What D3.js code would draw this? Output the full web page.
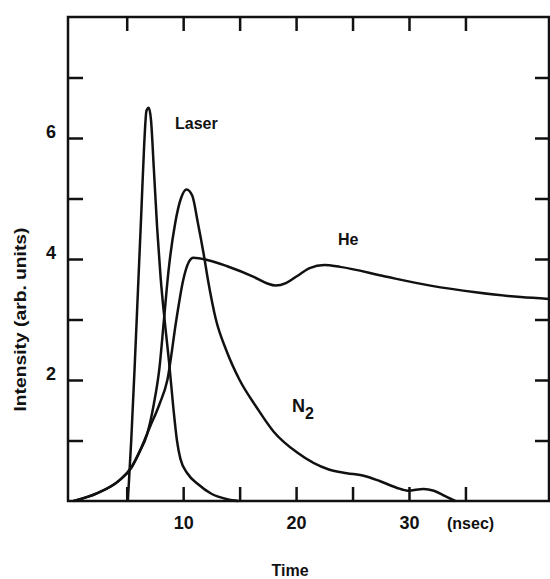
<!DOCTYPE html>
<html>
<head>
<meta charset="utf-8">
<script src="https://cdn.jsdelivr.net/npm/d3@7"></script>
<style>
  body { margin: 0; background: #fff; }
  text { font-family: "Liberation Sans", Arial, sans-serif; fill: #111; }
</style>
</head>
<body>
<div id="chart"></div>
<script>
var svgWidth = 550;
var svgHeight = 579;

// data (time in nsec, intensity in arb. units)
var laserT = [5.1, 5.4, 5.7, 6.0, 6.3, 6.55, 6.75, 6.95, 7.15, 7.4, 7.7, 8.0, 8.35, 8.75, 9.15, 9.45, 9.75, 10.4, 11.3, 12.5, 13.9, 14.9];
var laserV = [0, 1.0, 2.2, 3.5, 4.8, 5.9, 6.45, 6.5, 6.3, 5.5, 4.5, 3.7, 3.0, 2.3, 1.5, 1.0, 0.7, 0.45, 0.28, 0.12, 0.03, 0];

var n2T = [0.3, 2.4, 4.4, 5.4, 6.1, 6.8, 7.4, 7.9, 8.3, 8.7, 9.3, 9.8, 10.3, 10.8, 11.3, 11.8, 12.2, 12.9, 13.8, 15.0, 16.5, 18.0, 20.1, 22.9, 24.5, 25.9, 27.4, 28.9, 29.9, 31.3, 32.2, 33.2, 34.1];
var n2V = [0, 0.13, 0.35, 0.55, 0.8, 1.1, 1.6, 2.2, 3.0, 3.8, 4.6, 5.0, 5.15, 5.05, 4.6, 4.1, 3.65, 3.0, 2.5, 2.0, 1.55, 1.15, 0.8, 0.52, 0.46, 0.42, 0.33, 0.22, 0.17, 0.2, 0.17, 0.08, 0];

var heT = [0.3, 2.4, 4.4, 5.4, 6.1, 7.0, 7.9, 8.6, 9.4, 10.0, 10.5, 10.9, 12.2, 13.9, 16.3, 17.4, 18.2, 19.1, 20.1, 21.2, 22.5, 23.9, 27.9, 31.9, 35.9, 39.9, 42.4];
var heV = [0, 0.13, 0.35, 0.55, 0.8, 1.2, 1.6, 2.0, 3.0, 3.65, 3.95, 4.02, 3.98, 3.88, 3.7, 3.6, 3.56, 3.6, 3.72, 3.85, 3.9, 3.87, 3.71, 3.56, 3.45, 3.37, 3.34];

var xTicks = [5, 10, 15, 20, 25, 30, 35];
var xLabels = [10, 20, 30];
var yTicks = [1, 2, 3, 4, 5, 6, 7];
var yLabels = [2, 4, 6];

var svg = d3.select("#chart")
  .append("svg")
  .attr("width", svgWidth)
  .attr("height", svgHeight);

var xScale = d3.scaleLinear()
  .domain([-0.2, 42.4])
  .range([68, 549]);

var yScale = d3.scaleLinear()
  .domain([0, 8])
  .range([501, 17]);

var x0 = xScale.range()[0], x1 = xScale.range()[1];
var yTop = yScale(8), yBot = yScale(0);

// axes with inward ticks
var bottomAxis = d3.axisBottom(xScale)
  .tickValues(xTicks)
  .tickSizeInner(-14)
  .tickSizeOuter(0)
  .tickPadding(15)
  .tickFormat(d => xLabels.includes(d) ? d : "");

var topAxis = d3.axisTop(xScale)
  .tickValues(xTicks)
  .tickSizeInner(-14)
  .tickSizeOuter(0)
  .tickFormat("");

var leftAxis = d3.axisLeft(yScale)
  .tickValues(yTicks)
  .tickSizeInner(-15)
  .tickSizeOuter(0)
  .tickPadding(12)
  .tickFormat(d => yLabels.includes(d) ? d : "");

var rightAxis = d3.axisRight(yScale)
  .tickValues(yTicks)
  .tickSizeInner(-14)
  .tickSizeOuter(0)
  .tickFormat("");

function styleAxis(g) {
  g.select(".domain").remove();
  g.selectAll(".tick line").attr("stroke", "#111").attr("stroke-width", 2.5);
  g.selectAll(".tick text")
    .attr("fill", "#111")
    .style("font-size", "18px")
    .style("font-weight", "bold");
}

svg.append("g").attr("transform", `translate(0,${yBot})`).call(bottomAxis).call(styleAxis);
svg.append("g").attr("transform", `translate(0,${yTop})`).call(topAxis).call(styleAxis);
svg.append("g").attr("transform", `translate(${x0},0)`).call(leftAxis).call(styleAxis)
  .selectAll(".tick text").attr("dy", "-0.05em");
svg.append("g").attr("transform", `translate(${x1},0)`).call(rightAxis).call(styleAxis);

// frame
svg.append("rect")
  .attr("x", x0)
  .attr("y", yTop)
  .attr("width", x1 - x0)
  .attr("height", yBot - yTop)
  .attr("fill", "none")
  .attr("stroke", "#111")
  .attr("stroke-width", 2.5);

// curves
var line = d3.line()
  .x(d => xScale(d[0]))
  .y(d => yScale(d[1]))
  .curve(d3.curveMonotoneX);

var series = [
  { t: laserT, v: laserV },
  { t: n2T, v: n2V },
  { t: heT, v: heV }
];

svg.selectAll("path.curve")
  .data(series)
  .enter()
  .append("path")
  .attr("class", "curve")
  .attr("fill", "none")
  .attr("stroke", "#111")
  .attr("stroke-width", 2.5)
  .attr("stroke-linejoin", "round")
  .attr("d", s => line(s.t.map((t, i) => [t, s.v[i]])));

// curve labels
svg.append("text")
  .attr("x", 175)
  .attr("y", 129)
  .style("font-size", "16px")
  .style("font-weight", "bold")
  .text("Laser");

svg.append("text")
  .attr("x", 338)
  .attr("y", 245)
  .style("font-size", "16px")
  .style("font-weight", "bold")
  .text("He");

var n2Label = svg.append("text")
  .attr("x", 292)
  .attr("y", 412)
  .style("font-size", "18px")
  .style("font-weight", "bold");
n2Label.append("tspan").text("N");
n2Label.append("tspan").attr("dy", 7).style("font-size", "16px").text("2");

// axis titles
svg.append("text")
  .attr("x", 447)
  .attr("y", 529)
  .style("font-size", "16px")
  .style("font-weight", "bold")
  .text("(nsec)");

svg.append("text")
  .attr("x", 290)
  .attr("y", 576)
  .attr("text-anchor", "middle")
  .style("font-size", "16px")
  .style("font-weight", "bold")
  .text("Time");

svg.append("text")
  .attr("transform", `translate(26, ${yScale(3)}) rotate(-90)`)
  .attr("text-anchor", "middle")
  .attr("textLength", 184)
  .attr("lengthAdjust", "spacingAndGlyphs")
  .style("font-size", "17px")
  .style("font-weight", "bold")
  .text("Intensity (arb. units)");
</script>
</body>
</html>
